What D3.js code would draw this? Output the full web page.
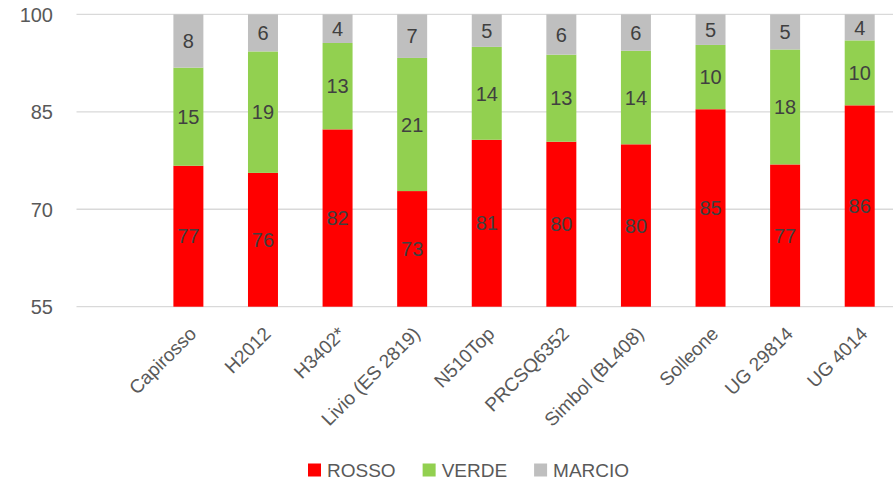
<!DOCTYPE html>
<html>
<head>
<meta charset="utf-8">
<script src="https://cdn.jsdelivr.net/npm/d3@7"></script>
<style>
  html, body { margin: 0; padding: 0; background: #fff; }
  svg { display: block; font-family: "Liberation Sans", Arial, sans-serif; }
</style>
</head>
<body>
<svg id="chart" width="893" height="485"></svg>
<script>
const categories = ["Capirosso","H2012","H3402*","Livio (ES 2819)","N510Top","PRCSQ6352","Simbol (BL408)","Solleone","UG 29814","UG 4014"];
const rosso  = [76.7, 75.6, 82.3, 72.8, 80.7, 80.4, 80.0, 85.4, 76.9, 86.0];
const verde  = [15.1, 18.7, 13.3, 20.5, 14.3, 13.4, 14.4,  9.9, 17.7, 10.0];
const marcio = [ 8.2,  5.7,  4.4,  6.7,  5.0,  6.2,  5.6,  4.7,  5.4,  4.0];
const seriesNames = ["ROSSO", "VERDE", "MARCIO"];
const yTicks = [55, 70, 85, 100];

const colors = ["#FF0000", "#92D050", "#BFBFBF"];
const svg = d3.select("#chart");
const W = 893;
const plotLeft = 76.5, plotRight = 897, plotTop = 14.4, plotBottom = 306.7;
const slot = (plotRight - plotLeft) / (categories.length + 1);

const x = d3.scaleBand()
  .domain(categories)
  .range([plotLeft + slot, plotRight])
  .paddingInner(0.598)
  .paddingOuter(0.299);
const y = d3.scaleLinear().domain([55, 100]).range([plotBottom, plotTop]);

// gridlines
svg.append("g").selectAll("line").data(yTicks).join("line")
  .attr("x1", plotLeft).attr("x2", W)
  .attr("y1", d => y(d)).attr("y2", d => y(d))
  .attr("stroke", "#D9D9D9").attr("stroke-width", 1.3);

// y axis labels
const yAxis = d3.axisLeft(y).tickValues(yTicks).tickSize(0).tickPadding(0);
const yg = svg.append("g").attr("transform", `translate(53,0)`).call(yAxis);
yg.select(".domain").remove();
yg.selectAll("text").attr("font-size", 20).attr("fill", "#595959")
  .attr("font-family", "Liberation Sans, Arial, sans-serif").attr("dy", "0.35em");

// stacked data
const rows = categories.map((c, i) => ({cat: c, ROSSO: rosso[i], VERDE: verde[i], MARCIO: marcio[i]}));
const stacked = d3.stack().keys(seriesNames)(rows);
stacked.forEach(layer => layer.forEach(d => { d.key = layer.key; }));

const layers = svg.append("g").selectAll("g").data(stacked).join("g")
  .attr("fill", (d, i) => colors[i]);
layers.selectAll("rect").data(d => d).join("rect")
  .attr("x", d => x(d.data.cat))
  .attr("width", x.bandwidth())
  .attr("y", d => y(Math.min(100, d[1])))
  .attr("height", d => y(Math.max(55, d[0])) - y(Math.min(100, d[1])));

// data labels
const lab = svg.append("g");
stacked.forEach(layer => {
  lab.selectAll(null).data(layer).join("text")
    .attr("x", d => x(d.data.cat) + x.bandwidth() / 2)
    .attr("y", d => (y(Math.max(55, d[0])) + y(Math.min(100, d[1]))) / 2)
    .attr("dy", "0.36em")
    .attr("text-anchor", "middle")
    .attr("font-size", 20)
    .attr("fill", "#404040")
    .text(d => Math.round(d.data[d.key]));
});

// x labels
svg.append("g").selectAll("text").data(categories).join("text")
  .attr("transform", d => `translate(${x(d) + x.bandwidth() / 2 + 9},335) rotate(-45)`)
  .attr("text-anchor", "end")
  .attr("font-size", 19)
  .attr("fill", "#595959")
  .text(d => d);

// legend
const leg = svg.append("g");
let lx = 308;
seriesNames.forEach((name, i) => {
  leg.append("rect").attr("x", lx).attr("y", 463.5).attr("width", 13).attr("height", 13).attr("fill", colors[i]);
  const t = leg.append("text").attr("x", lx + 19).attr("y", 470).attr("dy", "0.36em")
    .attr("font-size", 19).attr("fill", "#595959").text(name);
  lx += 19 + t.node().getComputedTextLength() + 27;
});
</script>
</body>
</html>
